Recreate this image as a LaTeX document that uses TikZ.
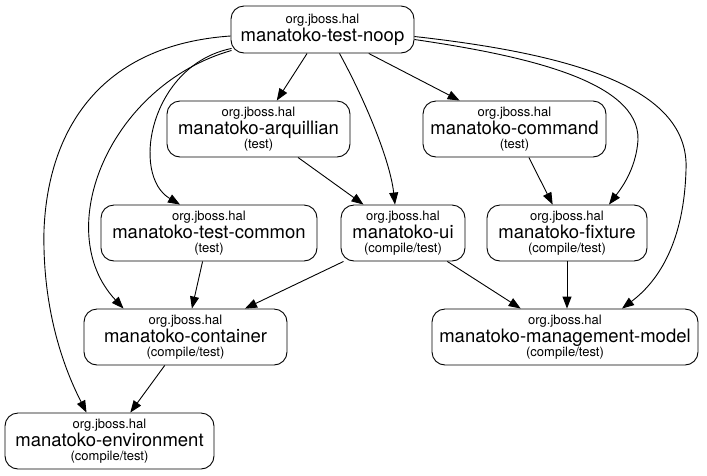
\documentclass[tikz,border=0pt]{standalone}
\usepackage{fontspec}
\setmainfont{TeX Gyre Heros}
\usetikzlibrary{arrows, arrows.meta}
\usetikzlibrary{graphs}
\usetikzlibrary{shapes,calc}
\tikzstyle{dep}=[-{Triangle[length=12pt,width=9pt]}, line width=0.9pt]
\tikzset{
    module/.style={draw, line width=0.9pt, rounded corners=13pt, align=center,
        inner sep=0pt, minimum height=56pt, font=\fontsize{13}{16}\selectfont}
}
\newcommand{\gav}[2]{org.jboss.hal\\[1pt]{\fontsize{18.5}{18}\selectfont #1}\\[-2pt]#2}

\begin{document}
\begin{tikzpicture}[x=1pt, y=-1pt]
  \useasboundingbox (0,0) rectangle (707,475);

  % top
  \node (noop)[module, minimum width=183pt, minimum height=47pt] at (322.5,29.5)
      {org.jboss.hal\\[1pt]{\fontsize{18.5}{18}\selectfont manatoko-test-noop}};
  \node (arq)[module, minimum width=183pt] at (258.5,129) {\gav{manatoko-arquillian}{(test)}};
  \node (cmd)[module, minimum width=183pt] at (514.5,129) {\gav{manatoko-command}{(test)}};
  \node (tc)[module, minimum width=216pt] at (209,233) {\gav{manatoko-test-common}{(test)}};
  \node (ui)[module, minimum width=124pt] at (403,233) {\gav{manatoko-ui}{(compile/test)}};
  \node (fix)[module, minimum width=160pt] at (567,233) {\gav{manatoko-fixture}{(compile/test)}};
  \node (cont)[module, minimum width=203pt] at (185.5,337) {\gav{manatoko-container}{(compile/test)}};
  \node (mgmt)[module, minimum width=266pt] at (565,337) {\gav{manatoko-management-model}{(compile/test)}};
  \node (env)[module, minimum width=209pt] at (109.5,441) {\gav{manatoko-environment}{(compile/test)}};

  \graph[use existing nodes, edges={dep}] {
    noop -> {arq, cmd},
    arq -> ui,
    cmd -> fix,
    tc -> cont,
    ui -> {cont, mgmt},
    cont -> env
  };
  \draw[dep] (fix) -- (fix |- mgmt.north);

  % curved deps of noop
  \draw[dep] ([xshift=17pt]noop.south) .. controls (365,100) and (390,160) .. ([xshift=-8pt]ui.north);
  \draw[dep] ([shift={(1pt,5pt)}]noop.south west) .. controls (150,65) and (130,175) .. ([xshift=-29pt]tc.north);
  \draw[dep] ([shift={(1pt,3pt)}]noop.south west) .. controls (110,85) and (50,230) .. ([xshift=-62pt]cont.north);
  \draw[dep] ([yshift=-6.5pt]noop.west) .. controls (100,45) and (48,130) .. (44,230)
      .. controls (42,320) and (70,380) .. ([xshift=-23pt]env.north);
  \draw[dep] ([yshift=-10pt]noop.east) .. controls (520,55) and (640,80) .. (638,140)
      .. controls (636,170) and (620,190) .. ([xshift=42pt]fix.north);
  \draw[dep] ([yshift=-7pt]noop.east) .. controls (580,55) and (690,90) .. (686,170)
      .. controls (684,240) and (660,280) .. ([xshift=57pt]mgmt.north);
\end{tikzpicture}
\end{document}
